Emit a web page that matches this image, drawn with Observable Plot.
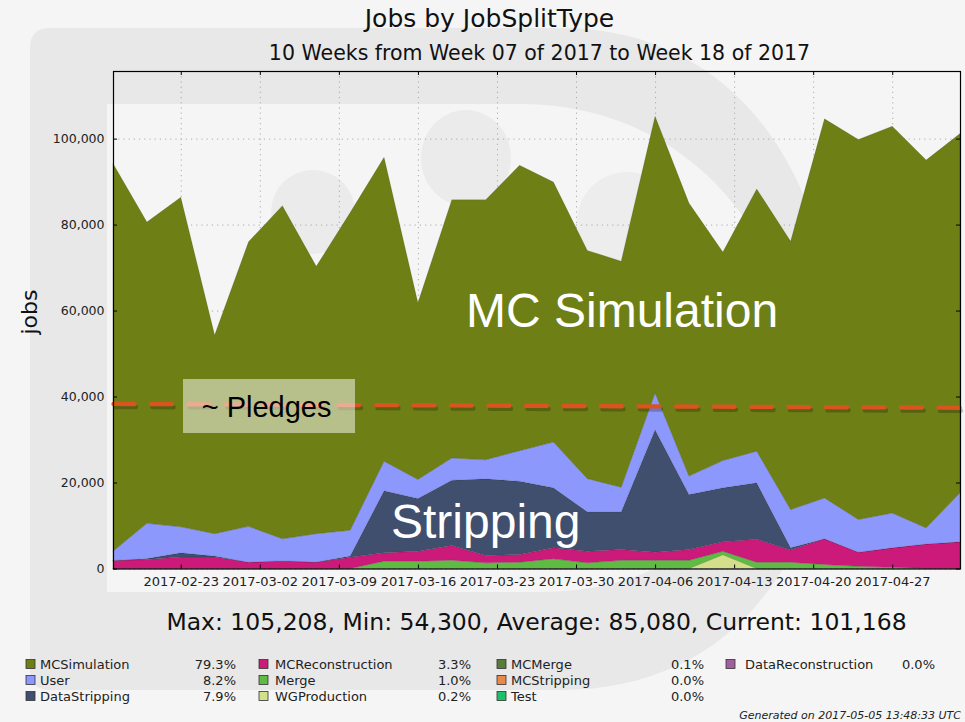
<!DOCTYPE html>
<html>
<head>
<meta charset="utf-8">
<script src="https://cdn.jsdelivr.net/npm/d3@7"></script>
<script src="https://cdn.jsdelivr.net/npm/@observablehq/plot@0.6"></script>
<style>
  html, body { margin: 0; padding: 0; background: #f5f5f5; }
  #wrap { position: relative; width: 965px; height: 722px; overflow: hidden; font-family: "DejaVu Sans", sans-serif; }
  #bg, #chart, #overlay { position: absolute; left: 0; top: 0; }
  #overlay { pointer-events: none; }
</style>
</head>
<body>
<div id="wrap">
  <svg id="bg" width="965" height="722">
    <rect width="965" height="722" fill="#f5f5f5"/>
    <path d="M50,28 H560 C745,28 835,190 835,360 C835,540 745,690 560,690 H50 Q30,690 30,670 V48 Q30,28 50,28 Z" fill="#e8e8e8"/>
    <path d="M107,104 H520 C690,104 790,240 790,360 C790,490 690,592 540,592 H107 Z" fill="#f5f5f5"/>
    <ellipse cx="466" cy="158" rx="45" ry="48" fill="#ebebeb"/>
    <ellipse cx="313" cy="212" rx="42" ry="42" fill="#ebebeb"/>
    <ellipse cx="627" cy="222" rx="50" ry="50" fill="#ededed"/>
  </svg>
  <div id="chart"></div>
  <svg id="overlay" width="965" height="722"></svg>
</div>
<script>
// ---- data ----
const dates = ["2017-02-17","2017-02-20","2017-02-23","2017-02-26","2017-03-01","2017-03-04","2017-03-07","2017-03-10","2017-03-13","2017-03-16","2017-03-19","2017-03-22","2017-03-25","2017-03-28","2017-03-31","2017-04-03","2017-04-06","2017-04-09","2017-04-12","2017-04-15","2017-04-18","2017-04-21","2017-04-24","2017-04-27","2017-04-30","2017-05-03"];

const MCSimulation = [90200,70100,76650,46200,66200,77500,62200,73900,70700,41100,60100,60500,66400,60500,53100,52600,64358,63500,48500,61000,62400,88200,88400,90000,85550,83568];
const User = [2140,8200,6050,5200,8330,5100,6600,6000,6850,4400,5150,4440,7100,10630,7700,5700,8550,4300,6330,7370,8900,9500,7600,8100,3750,11400];
const DataStripping = [0,200,950,200,0,100,30,270,14450,12270,15200,17840,17040,13970,9170,8780,28500,12780,12540,13130,500,0,0,0,0,0];
const MCReconstruction = [1860,2100,2700,2700,1470,1700,1470,2630,1950,2330,3420,1700,1790,2550,2710,2520,1900,2520,2230,5330,2830,5970,3300,4500,5700,6200];
const Merge = [0,0,0,0,0,0,0,0,1700,1700,1930,1320,1470,2250,1320,1900,1900,1900,800,1470,1470,930,500,300,0,0];
const WGProduction = [0,0,0,0,0,0,0,0,0,0,0,0,0,0,0,0,0,0,3200,0,0,0,0,0,0,0];
const MCMerge = [0,0,0,0,0,0,0,0,0,0,0,0,0,0,0,0,0,0,0,0,0,0,0,0,0,0];
const MCStripping = [0,0,0,0,0,0,0,0,0,0,0,0,0,0,0,0,0,0,0,0,0,0,0,0,0,0];
const Test = [0,0,0,0,0,0,0,0,0,0,0,0,0,0,0,0,0,0,0,0,0,0,0,0,0,0];
const DataReconstruction = [0,0,0,0,0,0,0,0,0,0,0,0,0,0,0,0,0,0,0,0,0,0,0,0,0,0];

const legendNames = ["MCSimulation","User","DataStripping","MCReconstruction","Merge","WGProduction","MCMerge","MCStripping","Test","DataReconstruction"];
const legendPcts = ["79.3%","8.2%","7.9%","3.3%","1.0%","0.2%","0.1%","0.0%","0.0%","0.0%"];
const legendColors = ["#6e7f16","#8c98fc","#414f6e","#cc1a7a","#5fbb44","#d4df8b","#5b7b3d","#e8894b","#1fbf6b","#a0609f"];
const stackOrder = ["DataReconstruction","Test","MCStripping","MCMerge","WGProduction","Merge","MCReconstruction","DataStripping","User","MCSimulation"];

const xTickDates = ["2017-02-23","2017-03-02","2017-03-09","2017-03-16","2017-03-23","2017-03-30","2017-04-06","2017-04-13","2017-04-20","2017-04-27"];
const yTicks = [0, 20000, 40000, 60000, 80000, 100000];
const yMax = 115729;
const xDomain = ["2017-02-17","2017-05-03"];

const pledgeDates = ["2017-02-17","2017-05-03"];
const pledgeValues = [38400, 37500];

const titleText = "Jobs by JobSplitType";
const subtitleText = "10 Weeks from Week 07 of 2017 to Week 18 of 2017";
const statsText = "Max: 105,208, Min: 54,300, Average: 85,080, Current: 101,168";
const yLabel = "jobs";
const generatedText = "Generated on 2017-05-05 13:48:33 UTC";

// ---- build ----
const seriesMap = {MCSimulation, User, DataStripping, MCReconstruction, Merge, WGProduction, MCMerge, MCStripping, Test, DataReconstruction};
const data = [];
for (const type of stackOrder) {
  const vals = seriesMap[type];
  if (!vals.some(v => v > 0)) continue;
  vals.forEach((v, i) => data.push({date: new Date(dates[i]), type, value: v}));
}
const xTicks = xTickDates.map(d => new Date(d));
const pledge = pledgeDates.map((d, i) => ({date: new Date(d), value: pledgeValues[i]}));

const W = 965, H = 600, mT = 71, mL = 113, mR = 5, mB = 31.5;
const innerH = H - mT - mB, innerW = W - mL - mR;

const chart = Plot.plot({
  width: W, height: H,
  marginTop: mT, marginLeft: mL, marginRight: mR, marginBottom: mB,
  style: {background: "transparent", fontFamily: "DejaVu Sans, sans-serif", fontSize: "13px", color: "#222", overflow: "visible"},
  x: {type: "utc", domain: xDomain.map(d => new Date(d))},
  y: {domain: [0, yMax]},
  color: {domain: legendNames, range: legendColors},
  marks: [
    Plot.gridY(yTicks, {stroke: "#9a9a9a", strokeOpacity: 0.8, strokeDasharray: "1.2,4"}),
    Plot.gridX(xTicks, {stroke: "#9a9a9a", strokeOpacity: 0.8, strokeDasharray: "1.2,4"}),
    Plot.areaY(data, Plot.stackY({x: "date", y: "value", z: "type", fill: "type", order: stackOrder,
      stroke: "#000", strokeOpacity: 0.18, strokeWidth: 0.6})),
    Plot.lineY(pledge, {x: "date", y: "value", stroke: "#000", strokeOpacity: 0.22, strokeWidth: 4.5, strokeDasharray: "21,16.5", dy: 3, dx: 1.5}),
    Plot.lineY(pledge, {x: "date", y: "value", stroke: "#d9541f", strokeWidth: 4.3, strokeDasharray: "21,16.5"}),
    Plot.ruleX(xTicks, {insetTop: innerH - 4, stroke: "#000"}),
    Plot.ruleX(xTicks, {insetBottom: innerH - 4, stroke: "#000"}),
    Plot.ruleY(yTicks, {insetRight: innerW - 4, stroke: "#000"}),
    Plot.ruleY(yTicks, {insetLeft: innerW - 4, stroke: "#000"}),
    Plot.frame({stroke: "#000", strokeWidth: 1.2}),
    Plot.axisX(xTicks, {tickSize: 0, tickPadding: 8, tickFormat: d3.utcFormat("%Y-%m-%d"), fontSize: 13, label: null}),
    Plot.axisY(yTicks, {tickSize: 0, tickPadding: 9, tickFormat: d3.format(","), fontSize: 12.5, label: null})
  ]
});
document.getElementById("chart").appendChild(chart);

// ---- overlay: titles, annotations, legend ----
const ov = d3.select("#overlay");
const txt = (x, y, s, attrs) => {
  const t = ov.append("text").attr("x", x).attr("y", y).text(s);
  for (const k in attrs) t.attr(k, attrs[k]);
  return t;
};
const dv = "DejaVu Sans, sans-serif";
const lib = "Liberation Sans, Arial, sans-serif";
txt(489.5, 27, titleText, {"font-family": dv, "font-size": 25, "text-anchor": "middle", fill: "#111"});
txt(539.5, 60, subtitleText, {"font-family": dv, "font-size": 20.5, "text-anchor": "middle", fill: "#111"});
txt(536.5, 630, statsText, {"font-family": dv, "font-size": 23.5, "text-anchor": "middle", fill: "#111"});
txt(0, 0, yLabel, {"font-family": dv, "font-size": 22, "text-anchor": "middle", fill: "#111", transform: "translate(36.7,312) rotate(-90)"});

// annotations
ov.append("rect").attr("x", 183).attr("y", 379).attr("width", 172).attr("height", 54).attr("fill", "#fff").attr("fill-opacity", 0.5);
txt(201.7, 416.7, "~ Pledges", {"font-family": lib, "font-size": 29, fill: "#000"});
txt(466, 327, "MC Simulation", {"font-family": lib, "font-size": 48, fill: "#fff"});
txt(391, 538, "Stripping", {"font-family": lib, "font-size": 48, fill: "#fff"});

// legend
const cols = [[26, 40, 236], [259, 275, 471], [497, 511, 704], [726, 745, 935]];
const rows = [664, 680, 696];
legendNames.forEach((name, i) => {
  const c = cols[Math.floor(i / 3)], r = rows[i % 3];
  ov.append("rect").attr("x", c[0]).attr("y", r - 4.5).attr("width", 9).attr("height", 9)
    .attr("fill", legendColors[i]).attr("stroke", "#333").attr("stroke-width", 0.8);
  txt(c[1], r + 4.7, name, {"font-family": dv, "font-size": 13, fill: "#222"});
  txt(c[2], r + 4.7, legendPcts[i], {"font-family": dv, "font-size": 13, fill: "#222", "text-anchor": "end"});
});
txt(961, 719, generatedText, {"font-family": dv, "font-size": 11, "font-style": "italic", fill: "#222", "text-anchor": "end"});
</script>
</body>
</html>
